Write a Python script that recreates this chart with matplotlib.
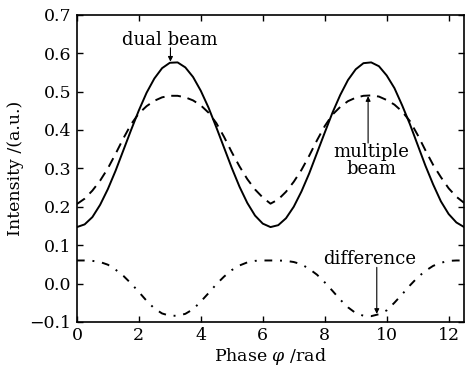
import numpy as np
import matplotlib
matplotlib.use("Agg")
import matplotlib.pyplot as plt

plt.rcParams['font.family'] = ['DejaVu Serif']
plt.rcParams['mathtext.fontset'] = 'dejavuserif'

# phase samples (rad), step 0.25
phase = np.arange(0, 12.51, 0.25)

dual_beam = [0.147, 0.154, 0.173, 0.205, 0.246, 0.294, 0.347, 0.400, 0.451, 0.497,
             0.534, 0.561, 0.575, 0.576, 0.563, 0.538, 0.502, 0.458, 0.407, 0.354,
             0.301, 0.252, 0.210, 0.177, 0.156, 0.147, 0.152, 0.170, 0.200, 0.240,
             0.287, 0.340, 0.393, 0.445, 0.491, 0.530, 0.558, 0.574, 0.576, 0.566,
             0.542, 0.509, 0.464, 0.415, 0.361, 0.307, 0.258, 0.214, 0.181, 0.159,
             0.147]

multiple_beam = [0.207, 0.221, 0.242, 0.268, 0.300, 0.338, 0.378, 0.415, 0.443, 0.462,
                 0.476, 0.485, 0.489, 0.489, 0.485, 0.477, 0.464, 0.445, 0.418, 0.382,
                 0.342, 0.305, 0.272, 0.245, 0.224, 0.208, 0.219, 0.239, 0.265, 0.296,
                 0.333, 0.373, 0.410, 0.440, 0.460, 0.475, 0.484, 0.489, 0.490, 0.487,
                 0.478, 0.466, 0.448, 0.423, 0.387, 0.347, 0.309, 0.277, 0.248, 0.226,
                 0.210]

difference = [0.060, 0.060, 0.059, 0.056, 0.049, 0.036, 0.020, 0.000, -0.022, -0.045,
              -0.065, -0.078, -0.084, -0.084, -0.079, -0.067, -0.047, -0.025, -0.002, 0.018,
              0.035, 0.047, 0.055, 0.059, 0.060, 0.060, 0.060, 0.059, 0.056, 0.050,
              0.038, 0.023, 0.003, -0.019, -0.042, -0.062, -0.077, -0.084, -0.085, -0.080,
              -0.070, -0.050, -0.028, -0.005, 0.016, 0.033, 0.046, 0.054, 0.059, 0.060,
              0.060]

fig = plt.figure(figsize=(4.66, 3.70), dpi=100)
ax = fig.add_axes([0.165, 0.13, 0.831, 0.83])

ax.plot(phase, dual_beam, color='black', lw=1.4, linestyle='-')
ax.plot(phase, multiple_beam, color='black', lw=1.4, linestyle=(0, (5, 3.5)))
ax.plot(phase, difference, color='black', lw=1.4, linestyle=(0, (4, 4, 1, 4)))

ax.set_xlim(0, 12.5)
ax.set_ylim(-0.1, 0.7)
ax.set_xticks(np.arange(0, 13, 2))
ax.set_yticks(np.arange(-0.1, 0.71, 0.1))
ax.set_yticklabels(['\u22120.1', '0.0', '0.1', '0.2', '0.3', '0.4', '0.5', '0.6', '0.7'])
ax.tick_params(direction='in', top=True, right=True, length=4, width=1,
               labelsize=12.5, pad=4)
for s in ax.spines.values():
    s.set_linewidth(1.2)

ax.set_xlabel(r'Phase $\varphi$ /rad', fontsize=12.5, labelpad=1)
ax.set_ylabel('Intensity /(a.u.)', fontsize=12.5, labelpad=4)

# labels and their pointer arrows
arrow = dict(arrowstyle='-|>', color='black', lw=0.8, mutation_scale=7,
             shrinkA=0, shrinkB=0)
ax.text(3.0, 0.634, 'dual beam', ha='center', va='center', fontsize=13)
ax.annotate('', xy=(3.02, 0.578), xytext=(3.02, 0.614), arrowprops=arrow)

ax.text(9.5, 0.32, 'multiple\nbeam', ha='center', va='center', fontsize=13,
        linespacing=0.9)
ax.annotate('', xy=(9.4, 0.488), xytext=(9.4, 0.366), arrowprops=arrow)

ax.text(9.46, 0.063, 'difference', ha='center', va='center', fontsize=13)
ax.annotate('', xy=(9.68, -0.079), xytext=(9.68, 0.042), arrowprops=arrow)

fig.savefig('out.png', dpi=100)
